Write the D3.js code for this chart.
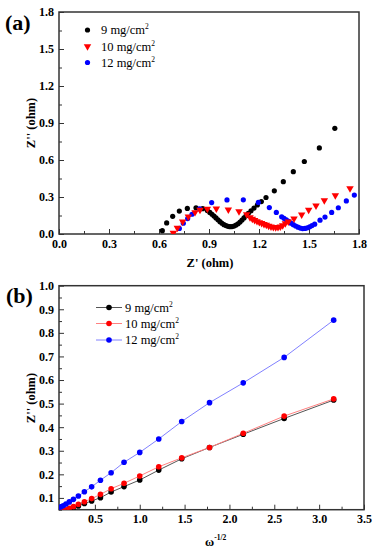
<!DOCTYPE html>
<html><head><meta charset="utf-8">
<script src="https://cdn.jsdelivr.net/npm/d3@7"></script>
<style>body{margin:0;background:#fff} svg text{font-family:"Liberation Serif","DejaVu Serif",serif !important;}</style></head>
<body>
<svg id="c" width="375" height="550"></svg>
<script>
// ---------- DATA ----------
const legendLabels = ["9 mg/cm", "10 mg/cm", "12 mg/cm"];
// Panel (a): Nyquist data [Z', Z'']
const nyq9 = [[0.62,0.027],[0.646,0.09],[0.682,0.143],[0.722,0.186],[0.77,0.207],[0.822,0.212],[0.862,0.205],[0.89,0.19],[0.905,0.175],[0.918,0.16],[0.93,0.145],[0.942,0.13],[0.954,0.115],[0.966,0.1],[0.978,0.087],[0.99,0.076],[1.002,0.068],[1.014,0.062],[1.026,0.059],[1.038,0.06],[1.05,0.064],[1.062,0.072],[1.074,0.083],[1.086,0.097],[1.098,0.113],[1.11,0.13],[1.122,0.148],[1.136,0.168],[1.152,0.188],[1.17,0.21],[1.19,0.235],[1.214,0.263],[1.242,0.296],[1.292,0.35],[1.346,0.424],[1.406,0.505],[1.472,0.588],[1.562,0.698],[1.655,0.857]];
const nyq10 = [[0.686,0.008],[0.71,0.05],[0.742,0.1],[0.776,0.14],[0.816,0.176],[0.846,0.195],[0.89,0.203],[0.944,0.206],[1.016,0.198],[1.08,0.183],[1.126,0.158],[1.146,0.135],[1.16,0.122],[1.174,0.112],[1.188,0.103],[1.202,0.095],[1.216,0.087],[1.23,0.08],[1.244,0.073],[1.258,0.066],[1.272,0.06],[1.286,0.055],[1.3,0.053],[1.314,0.055],[1.328,0.06],[1.342,0.07],[1.358,0.085],[1.376,0.1],[1.41,0.125],[1.456,0.157],[1.498,0.195],[1.542,0.23],[1.592,0.272],[1.658,0.312],[1.746,0.37]];
const nyq12 = [[0.722,0.045],[0.746,0.087],[0.772,0.125],[0.798,0.16],[0.844,0.203],[0.916,0.255],[1.008,0.276],[1.106,0.277],[1.196,0.256],[1.262,0.214],[1.304,0.175],[1.336,0.14],[1.35,0.127],[1.364,0.115],[1.378,0.102],[1.392,0.088],[1.406,0.076],[1.42,0.065],[1.434,0.055],[1.448,0.048],[1.462,0.044],[1.476,0.045],[1.49,0.05],[1.504,0.058],[1.518,0.068],[1.534,0.08],[1.566,0.112],[1.596,0.137],[1.636,0.175],[1.676,0.213],[1.724,0.268],[1.772,0.316]];
// Panel (b): Z'' vs omega^-1/2
const omegaInv = [3.162,2.610,2.154,1.778,1.468,1.212,1.000,0.825,0.681,0.562,0.464,0.383,0.316,0.261,0.215,0.178,0.147,0.121,0.100];
const zb9  = [0.515,0.437,0.370,0.314,0.266,0.218,0.176,0.148,0.125,0.101,0.087,0.076,0.066,0.058,0.051,0.045,0.040,0.036,0.033];
const zb10 = [0.520,0.447,0.374,0.314,0.270,0.232,0.193,0.162,0.139,0.115,0.097,0.084,0.073,0.063,0.056,0.050,0.045,0.041,0.038];
const zb12 = [0.854,0.696,0.588,0.504,0.424,0.350,0.293,0.251,0.207,0.175,0.147,0.126,0.108,0.094,0.083,0.074,0.067,0.062,0.058];
const ticksA = [0,0.3,0.6,0.9,1.2,1.5,1.8];
const minorA = [0.15,0.45,0.75,1.05,1.35,1.65];
const ticksBx = [0.5,1.0,1.5,2.0,2.5,3.0,3.5];
const minorBx = [0.25,0.75,1.25,1.75,2.25,2.75,3.25];
const ticksBy = [0.1,0.2,0.3,0.4,0.5,0.6,0.7,0.8,0.9,1.0];
const minorBy = [0.05,0.15,0.25,0.35,0.45,0.55,0.65,0.75,0.85,0.95];

// ---------- DRAW ----------
const svg = d3.select("#c");
const FONT = "Liberation Serif";
const colors = ["#000000","#ff0000","#0000ff"];
const lineColors = ["#555555","#ff8080","#8080ff"];

function frame(g, x, y, name, xt, xm, yt, ym) {
  const [x0,x1] = x.range(), [y0,y1] = y.range();
  g.append("g").attr("transform",`translate(0,${y0})`)
    .call(d3.axisBottom(x).tickValues(xt).tickSize(-5).tickPadding(5).tickFormat(d3.format(".1f")));
  g.append("g").attr("transform",`translate(0,${y0})`)
    .call(d3.axisBottom(x).tickValues(xm).tickSize(-3).tickFormat(""));
  g.append("g").attr("transform",`translate(${x0},0)`)
    .call(d3.axisLeft(y).tickValues(yt).tickSize(-5).tickPadding(5).tickFormat(d3.format(".1f")));
  g.append("g").attr("transform",`translate(${x0},0)`)
    .call(d3.axisLeft(y).tickValues(ym).tickSize(-3).tickFormat(""));
  g.selectAll(".domain").remove();
  g.selectAll(".tick line").attr("stroke","#333").attr("stroke-width",1);
  g.selectAll(".tick text").style("font-family",FONT).attr("font-weight","bold").attr("font-size",12).attr("fill","#000");
  g.append("rect").attr("x",x0).attr("y",y1).attr("width",x1-x0).attr("height",y0-y1)
    .attr("fill","none").attr("stroke","#333").attr("stroke-width",1.5);
  g.append("clipPath").attr("id",name).append("rect")
    .attr("x",x0).attr("y",y1).attr("width",x1-x0).attr("height",y0-y1);
}

// Panel (a)
const xa = d3.scaleLinear().domain([0,1.8]).range([59,359]);
const ya = d3.scaleLinear().domain([0,1.8]).range([234,12]);
const ga = svg.append("g");
frame(ga, xa, ya, "clipA", ticksA, minorA, ticksA, minorA);
const pa = ga.append("g").attr("clip-path","url(#clipA)");
const tri = d3.symbol().type(d3.symbolTriangle).size(24);
pa.selectAll(".b9").data(nyq9).join("circle").attr("cx",d=>xa(d[0])).attr("cy",d=>ya(d[1])).attr("r",2.6).attr("fill",colors[0]);
pa.selectAll(".b12").data(nyq12).join("circle").attr("cx",d=>xa(d[0])).attr("cy",d=>ya(d[1])).attr("r",2.6).attr("fill",colors[2]);
pa.selectAll(".b10").data(nyq10).join("path").attr("d",tri)
  .attr("transform",d=>`translate(${xa(d[0])},${ya(d[1])}) rotate(180)`).attr("fill",colors[1]);

// legend (a)
const legA = [30,46.5,62.5];
legendLabels.forEach((t,i)=>{
  if(i===1) ga.append("path").attr("d",tri).attr("transform",`translate(87.5,${legA[i]}) rotate(180)`).attr("fill",colors[i]);
  else ga.append("circle").attr("cx",87.5).attr("cy",legA[i]).attr("r",2.6).attr("fill",colors[i]);
  const tx = ga.append("text").attr("x",101).attr("y",legA[i]+4).style("font-family",FONT).attr("font-size",12.5).text(t);
  tx.append("tspan").attr("font-size",7.5).attr("dy",-5).text("2");
});
ga.append("text").attr("x",5).attr("y",30).style("font-family",FONT).attr("font-weight","bold").attr("font-size",22).text("(a)");
ga.append("text").attr("transform","translate(35,123) rotate(-90)").attr("text-anchor","middle")
  .style("font-family",FONT).attr("font-weight","bold").attr("font-size",12.5).text("Z'' (ohm)");
ga.append("text").attr("x",210).attr("y",267).attr("text-anchor","middle")
  .style("font-family",FONT).attr("font-weight","bold").attr("font-size",12.5).text("Z' (ohm)");

// Panel (b)
const xb = d3.scaleLinear().domain([0.1,3.5]).range([59,364]);
const yb = d3.scaleLinear().domain([0.05,1.0]).range([509.7,285.7]);
const gb = svg.append("g");
frame(gb, xb, yb, "clipB", ticksBx, minorBx, ticksBy, minorBy);
const pb = gb.append("g").attr("clip-path","url(#clipB)");
const seriesB = [zb9, zb10, zb12];
const line = d3.line().x(d=>xb(d[0])).y(d=>yb(d[1]));
seriesB.forEach((s,i)=>{
  const pts = omegaInv.map((x,j)=>[x,s[j]]);
  pb.append("path").datum(pts).attr("d",line).attr("fill","none").attr("stroke",lineColors[i]).attr("stroke-width",1);
});
seriesB.forEach((s,i)=>{
  const pts = omegaInv.map((x,j)=>[x,s[j]]);
  pb.selectAll(null).data(pts).join("circle").attr("cx",d=>xb(d[0])).attr("cy",d=>yb(d[1])).attr("r",2.8).attr("fill",colors[i]);
});
const legB = [307.5,323.5,340];
legendLabels.forEach((t,i)=>{
  gb.append("line").attr("x1",96).attr("x2",122).attr("y1",legB[i]).attr("y2",legB[i]).attr("stroke",lineColors[i]).attr("stroke-width",1);
  gb.append("circle").attr("cx",109).attr("cy",legB[i]).attr("r",2.8).attr("fill",colors[i]);
  const tx = gb.append("text").attr("x",125).attr("y",legB[i]+4).style("font-family",FONT).attr("font-size",12.5).text(t);
  tx.append("tspan").attr("font-size",7.5).attr("dy",-5).text("2");
});
gb.append("text").attr("x",6).attr("y",303).style("font-family",FONT).attr("font-weight","bold").attr("font-size",22).text("(b)");
gb.append("text").attr("transform","translate(35,398) rotate(-90)").attr("text-anchor","middle")
  .style("font-family",FONT).attr("font-weight","bold").attr("font-size",12.5).text("Z'' (ohm)");
const xl = gb.append("text").attr("x",205).attr("y",546).style("font-family",FONT).attr("font-weight","bold").attr("font-size",12.5).text("ω");
xl.append("tspan").attr("font-size",7.5).attr("dy",-6).text("-1/2");
</script>
</body></html>
